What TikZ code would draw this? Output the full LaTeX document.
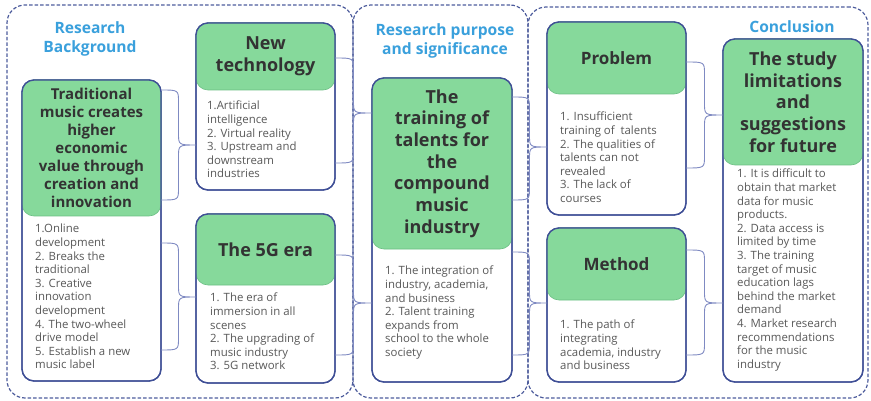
\documentclass[tikz,border=0pt]{standalone}
\usepackage{fontspec}
\setmainfont{Open Sans}
\usetikzlibrary{calc}
\definecolor{grpline}{HTML}{4D5C9C}
\definecolor{boxline}{HTML}{3F4F96}
\definecolor{hdrgreen}{HTML}{86D99B}
\definecolor{hdredge}{HTML}{6CBF84}
\definecolor{brc}{HTML}{7F8AC2}
\definecolor{ttl}{HTML}{3AA0DC}
\definecolor{hdtext}{HTML}{333333}
\definecolor{bdtext}{HTML}{595959}
\tikzset{
 grp/.style={draw=grpline, line width=1.2pt, dash pattern=on 3.5pt off 2pt, rounded corners=18pt, inner sep=0pt, outer sep=0pt, anchor=north west},
 outerbox/.style={draw=boxline, line width=1.3pt, fill=white, rounded corners=12pt, inner sep=0pt, outer sep=0pt, anchor=north west},
 outerline/.style={draw=boxline, line width=1.3pt, rounded corners=12pt},
 hdr/.style={fill=hdrgreen, draw=hdredge, line width=0.6pt, rounded corners=12pt, inner sep=2pt, outer sep=0pt, anchor=north west, align=center, text=hdtext},
 bodytxt/.style={anchor=north west, inner sep=0pt, align=left, text=bdtext, font=\fontsize{11.4}{13.6}\selectfont},
 ttlstyle/.style={text=ttl, font=\bfseries\fontsize{15.6}{19}\selectfont, align=center, inner sep=0pt},
 bracestyle/.style={draw=brc, line width=0.9pt},
}
\newcommand\mybrace[3]{\draw[bracestyle] let \p1=(#1), \p2=(#2), \p3=(#3), \p4=($(#1)!0.5!(#3)$) in
 (\p1) .. controls (\x4,\y1) .. (\x4,{\y1-12pt}) -- (\x4,{\y3+12pt}) .. controls (\x4,\y3) .. (\p3)
 .. controls (\x4,\y3) .. (\x4,{\y3-12pt}) -- (\x4,{\y2+12pt}) .. controls (\x4,\y2) .. (\p2);}
\begin{document}
\begin{tikzpicture}[x=1pt,y=-1pt]
\useasboundingbox (0,0) rectangle (871,401);
% groups
\node[grp, minimum width=346pt, minimum height=393pt] (g1) at (7,5) {};
\node[grp, minimum width=175pt, minimum height=393pt] (g2) at (353,5) {};
\node[grp, minimum width=340pt, minimum height=391pt] (g3) at (528,7) {};
% titles
\node[ttlstyle] (t1) at (90,39) {Research\\Background};
\node[ttlstyle] (t2) at (445,41) {Research purpose\\and significance};
\node[ttlstyle] (t3) at (792,27) {Conclusion};
% boxes
\node[outerbox, minimum width=139pt, minimum height=301pt] (trad) at (22,80) {};
\node[hdr, minimum width=139pt, minimum height=136pt, font=\bfseries\fontsize{15}{18}\selectfont] (tradH) at (22,80) {Traditional\\music creates\\higher\\economic\\value through\\creation and\\innovation};
\draw[outerline] (trad.north west) rectangle (trad.south east);

\node[outerbox, minimum width=139pt, minimum height=167pt] (tech) at (196,23) {};
\node[hdr, minimum width=139pt, minimum height=67pt, font=\bfseries\fontsize{18}{22}\selectfont] (techH) at (196,23) {New\\technology};
\draw[outerline] (tech.north west) rectangle (tech.south east);

\node[outerbox, minimum width=139pt, minimum height=169pt] (fiveg) at (196,214) {};
\node[hdr, minimum width=139pt, minimum height=71pt, font=\bfseries\fontsize{18}{22}\selectfont] (fivegH) at (196,214) {The 5G era};
\draw[outerline] (fiveg.north west) rectangle (fiveg.south east);

\node[outerbox, minimum width=140pt, minimum height=304pt] (train) at (372,78) {};
\node[hdr, minimum width=140pt, minimum height=171pt, font=\bfseries\fontsize{18}{21.7}\selectfont] (trainH) at (372,78) {The\\training of\\talents for\\the\\compound\\music\\industry};
\draw[outerline] (train.north west) rectangle (train.south east);

\node[outerbox, minimum width=139pt, minimum height=193pt] (prob) at (547,22) {};
\node[hdr, minimum width=139pt, minimum height=72pt, font=\bfseries\fontsize{17}{21}\selectfont] (probH) at (547,22) {Problem};
\draw[outerline] (prob.north west) rectangle (prob.south east);

\node[outerbox, minimum width=139pt, minimum height=154pt] (meth) at (547,228) {};
\node[hdr, minimum width=139pt, minimum height=72pt, font=\bfseries\fontsize{17}{21}\selectfont] (methH) at (547,228) {Method};
\draw[outerline] (meth.north west) rectangle (meth.south east);

\node[outerbox, minimum width=140pt, minimum height=343pt] (study) at (723,39) {};
\node[hdr, minimum width=140pt, minimum height=126pt, font=\bfseries\fontsize{18}{21.7}\selectfont] (studyH) at (723,39) {The study\\limitations\\and\\suggestions\\for future};
\draw[outerline] (study.north west) rectangle (study.south east);

% body texts
\node[bodytxt] (tradB) at (35,224) {1.Online\\development\\2. Breaks the\\traditional\\3. Creative\\innovation\\development\\4. The two-wheel\\drive model\\5. Establish a new\\music label};
\node[bodytxt] (techB) at (207,101) {1.Artificial\\intelligence\\2. Virtual reality\\3. Upstream and\\downstream\\industries};
\node[bodytxt] (fivegB) at (210,293) {1. The era of\\immersion in all\\scenes\\2. The upgrading of\\music industry\\3. 5G network};
\node[bodytxt] (trainB) at (385,266) {1. The integration of\\industry, academia,\\and business\\2. Talent training\\expands from\\school to the whole\\society};
\node[bodytxt] (probB) at (560,112) {1. Insufficient\\training of\ \ talents\\2. The qualities of\\talents can not\\revealed\\3. The lack of\\courses};
\node[bodytxt] (methB) at (560,320) {1. The path of\\integrating\\academia, industry\\and business};
\node[bodytxt] (studyB) at (737,169) {1. It is difficult to\\obtain that market\\data for music\\products.\\2. Data access is\\limited by time\\3. The training\\target of music\\education lags\\behind the market\\demand\\4. Market research\\recommendations\\for the music\\industry};

% brace end points
\coordinate (b1t) at (trad.east |- 0,90);
\coordinate (b1b) at (trad.east |- 0,200);
\coordinate (b1x) at (tech.west |- 0,145);
\coordinate (b2t) at (trad.east |- 0,243);
\coordinate (b2b) at (trad.east |- 0,350);
\coordinate (b2x) at (fiveg.west |- 0,297);
\coordinate (b3t) at (tech.east |- 0,58);
\coordinate (b3b) at (tech.east |- 0,163);
\coordinate (b3x) at (train.west |- 0,113);
\coordinate (b4t) at (fiveg.east |- 0,255);
\coordinate (b4b) at (fiveg.east |- 0,355);
\coordinate (b4x) at (train.west |- 0,303);
\coordinate (b5t) at (train.east |- 0,97);
\coordinate (b5b) at (train.east |- 0,200);
\coordinate (b5x) at (prob.west |- 0,147);
\coordinate (b6t) at (train.east |- 0,252);
\coordinate (b6b) at (train.east |- 0,355);
\coordinate (b6x) at (meth.west |- 0,303);
\coordinate (b7t) at (prob.east |- 0,62);
\coordinate (b7b) at (prob.east |- 0,168);
\coordinate (b7x) at (study.west |- 0,115);
\coordinate (b8t) at (meth.east |- 0,250);
\coordinate (b8b) at (meth.east |- 0,355);
\coordinate (b8x) at (study.west |- 0,303);
\mybrace{b1t}{b1b}{b1x}
\mybrace{b2t}{b2b}{b2x}
\mybrace{b3t}{b3b}{b3x}
\mybrace{b4t}{b4b}{b4x}
\mybrace{b5t}{b5b}{b5x}
\mybrace{b6t}{b6b}{b6x}
\mybrace{b7t}{b7b}{b7x}
\mybrace{b8t}{b8b}{b8x}
\end{tikzpicture}
\end{document}
